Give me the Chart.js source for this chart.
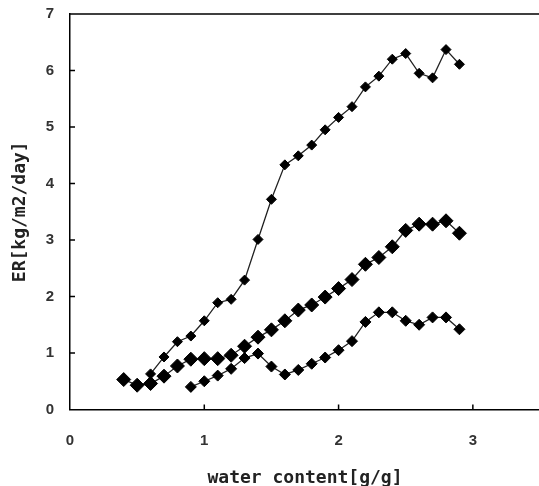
<!DOCTYPE html>
<html>
<head>
<meta charset="utf-8">
<script src="https://cdn.jsdelivr.net/npm/chart.js@4/dist/chart.umd.min.js"></script>
<style>
    html, body { margin: 0; padding: 0; background: #fff; overflow: hidden; }
    #wrap { width: 539px; height: 486px; overflow: hidden; }
</style>
</head>
<body>
<div id="wrap"><canvas id="chart" width="548" height="486"></canvas></div>
<script>
// данные
const waterA = [0.6, 0.7, 0.8, 0.9, 1.0, 1.1, 1.2, 1.3, 1.4, 1.5, 1.6, 1.7, 1.8, 1.9, 2.0, 2.1, 2.2, 2.3, 2.4, 2.5, 2.6, 2.7, 2.8, 2.9];
const erA = [0.63, 0.93, 1.20, 1.30, 1.57, 1.89, 1.95, 2.29, 3.01, 3.72, 4.33, 4.49, 4.68, 4.95, 5.17, 5.36, 5.71, 5.90, 6.20, 6.30, 5.95, 5.87, 6.37, 6.11];

const waterB = [0.4, 0.5, 0.6, 0.7, 0.8, 0.9, 1.0, 1.1, 1.2, 1.3, 1.4, 1.5, 1.6, 1.7, 1.8, 1.9, 2.0, 2.1, 2.2, 2.3, 2.4, 2.5, 2.6, 2.7, 2.8, 2.9];
const erB = [0.53, 0.43, 0.46, 0.59, 0.77, 0.89, 0.90, 0.90, 0.96, 1.12, 1.28, 1.41, 1.57, 1.76, 1.85, 1.99, 2.14, 2.30, 2.57, 2.69, 2.88, 3.17, 3.28, 3.28, 3.34, 3.12];

const waterC = [0.9, 1.0, 1.1, 1.2, 1.3, 1.4, 1.5, 1.6, 1.7, 1.8, 1.9, 2.0, 2.1, 2.2, 2.3, 2.4, 2.5, 2.6, 2.7, 2.8, 2.9];
const erC = [0.40, 0.50, 0.60, 0.72, 0.91, 0.99, 0.76, 0.62, 0.70, 0.81, 0.92, 1.05, 1.21, 1.55, 1.72, 1.72, 1.57, 1.50, 1.63, 1.63, 1.42];

const xTicks = [0, 1, 2, 3];
const yTicks = [0, 1, 2, 3, 4, 5, 6, 7];

const toPoints = (xs, ys) => xs.map((x, i) => ({ x: x, y: ys[i] }));

function series(xs, ys, r) {
    return {
        data: toPoints(xs, ys),
        showLine: true,
        borderColor: "#222",
        borderWidth: 1.3,
        pointStyle: "rectRot",
        pointRadius: r,
        pointBackgroundColor: "#000",
        pointBorderColor: "#000",
        pointBorderWidth: 1,
    };
}

// короткие засечки внутрь и верхняя рамка
const innerTicks = {
    id: "innerTicks",
    afterDraw(chart) {
        const ctx = chart.ctx;
        const a = chart.chartArea;
        const sx = chart.scales.x, sy = chart.scales.y;
        ctx.save();
        ctx.strokeStyle = "#000";
        ctx.lineWidth = 1.5;
        ctx.beginPath();
        ctx.moveTo(a.left, a.top);
        ctx.lineTo(a.right + 10, a.top);
        xTicks.forEach((v) => {
            const px = sx.getPixelForValue(v);
            if (v === 0) return;
            ctx.moveTo(px, a.bottom);
            ctx.lineTo(px, a.bottom - 5);
        });
        yTicks.forEach((v) => {
            const py = sy.getPixelForValue(v);
            if (v === 0 || v === 7) return;
            ctx.moveTo(a.left, py);
            ctx.lineTo(a.left + 5, py);
        });
        ctx.stroke();
        ctx.restore();
    },
};

const tickFont = { family: "'Liberation Sans', Arial, sans-serif", size: 15, weight: "bold" };
const titleFont = { family: "'DejaVu Sans Mono', monospace", size: 18, weight: "bold" };

new Chart(document.getElementById("chart"), {
    type: "scatter",
    data: {
        datasets: [series(waterA, erA, 5), series(waterB, erB, 7), series(waterC, erC, 5.5)],
    },
    options: {
        responsive: false,
        animation: false,
        layout: { padding: { top: 14, right: 3, left: 0, bottom: 0 } },
        plugins: { legend: { display: false }, tooltip: { enabled: false } },
        scales: {
            x: {
                type: "linear",
                min: 0,
                max: 3.5,
                afterBuildTicks: (s) => { s.ticks = xTicks.map((v) => ({ value: v })); },
                afterFit: (s) => { s.height = 76.5; s.paddingLeft = 0; s.paddingRight = 0; },
                grid: { display: false, drawTicks: false },
                border: { display: true, color: "#000", width: 1.5 },
                ticks: { color: "#333", font: tickFont, padding: 22 },
                title: { display: true, text: "water content[g/g]", color: "#222", font: titleFont, padding: { top: 0, bottom: -3 } },
            },
            y: {
                min: 0,
                max: 7,
                afterBuildTicks: (s) => { s.ticks = yTicks.map((v) => ({ value: v })); },
                afterFit: (s) => { s.width = 70; s.paddingTop = 0; s.paddingBottom = 0; },
                grid: { display: false, drawTicks: false },
                border: { display: true, color: "#000", width: 1.5 },
                ticks: { color: "#333", font: tickFont, padding: 16 },
                title: { display: true, text: "ER[kg/m2/day]", color: "#222", font: titleFont, padding: { top: 10, bottom: 0 } },
            },
        },
    },
    plugins: [innerTicks],
});
</script>
</body>
</html>
